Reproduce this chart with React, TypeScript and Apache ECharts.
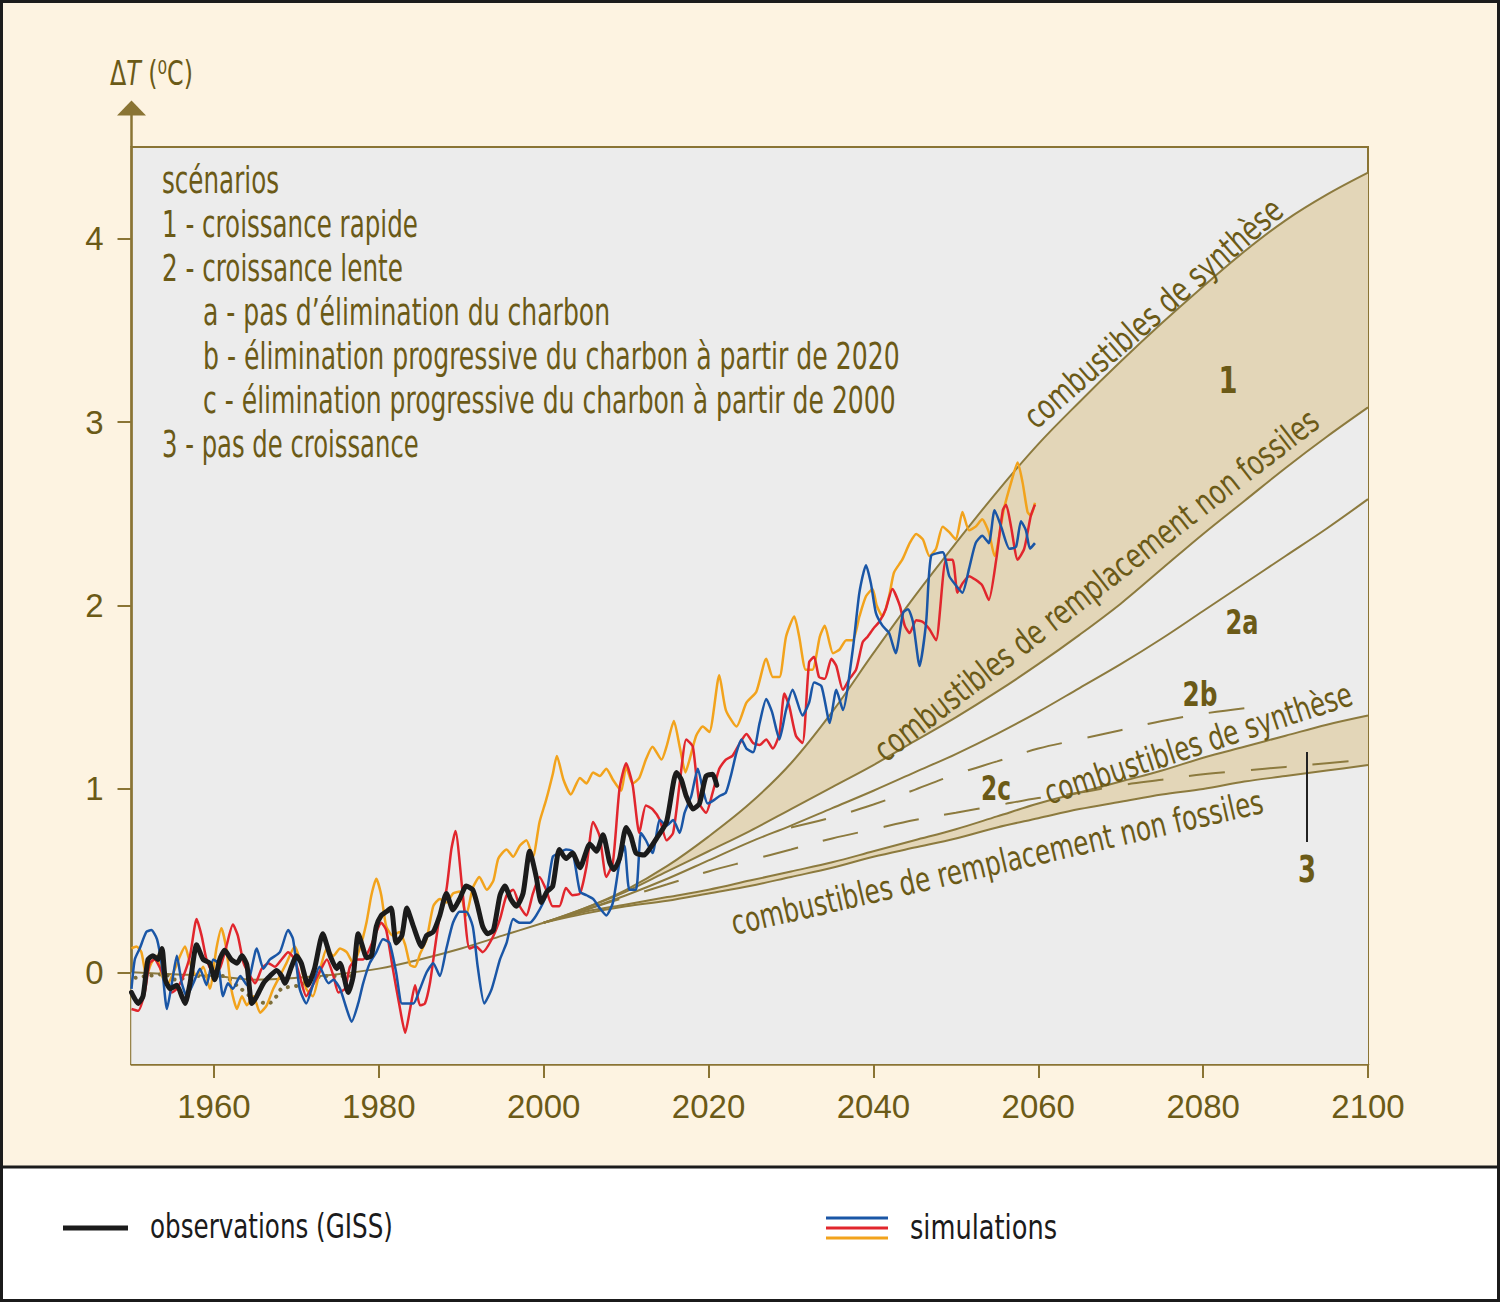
import React, { useEffect, useRef } from "react";
import * as echarts from "echarts";

// ---------- data ----------
const xTickValues = [1960, 1980, 2000, 2020, 2040, 2060, 2080, 2100];
const yTickValues = [0, 1, 2, 3, 4];

// common historical model curve
const histYears = [1950, 1955, 1960, 1965, 1970, 1975, 1980, 1985, 1990, 1995];
const histValues = [0.0, -0.01, -0.02, -0.04, -0.03, -0.01, 0.02, 0.07, 0.13, 0.2];

// dotted early curve
const dottedCurve = [
  [1950.5, -0.03], [1952, -0.02], [1954, -0.01], [1955.3, -0.04], [1958, -0.02], [1961, -0.02],
  [1963, -0.08], [1965, -0.15], [1966.6, -0.17], [1967.6, -0.13], [1968.2, -0.09], [1970.4, -0.07],
  [1971.8, -0.04], [1973.5, -0.02], [1975.5, -0.02], [1977.1, -0.02],
];

// scenario curves
const scenYears = [2000, 2005, 2010, 2015, 2020, 2025, 2030, 2035, 2040, 2045, 2050, 2055, 2060, 2065, 2070, 2075, 2080, 2085, 2090, 2095, 2100];
const s1Synthese = [0.27, 0.35, 0.45, 0.58, 0.74, 0.92, 1.14, 1.42, 1.74, 2.05, 2.34, 2.62, 2.88, 3.11, 3.33, 3.54, 3.74, 3.93, 4.1, 4.24, 4.36];
const s1Remplacement = [0.27, 0.35, 0.44, 0.55, 0.66, 0.77, 0.89, 1.01, 1.13, 1.26, 1.39, 1.53, 1.68, 1.84, 2.01, 2.2, 2.39, 2.57, 2.75, 2.92, 3.08];
const s2a = [0.27, 0.34, 0.42, 0.51, 0.61, 0.71, 0.8, 0.895, 0.99, 1.09, 1.19, 1.3, 1.42, 1.55, 1.68, 1.82, 1.97, 2.12, 2.27, 2.42, 2.58];
const s3Synthese = [0.27, 0.33, 0.37, 0.41, 0.45, 0.5, 0.55, 0.6, 0.66, 0.72, 0.78, 0.85, 0.92, 0.98, 1.04, 1.1, 1.17, 1.23, 1.29, 1.35, 1.4];
const s3Remplacement = [0.27, 0.32, 0.36, 0.39, 0.43, 0.47, 0.52, 0.57, 0.63, 0.68, 0.73, 0.79, 0.84, 0.89, 0.93, 0.97, 1.0, 1.04, 1.07, 1.1, 1.13];
const s2bYears = [2030, 2035, 2040, 2045, 2050, 2055, 2060, 2065, 2070, 2075, 2080, 2085];
const s2b = [0.79, 0.845, 0.915, 0.995, 1.08, 1.15, 1.22, 1.27, 1.32, 1.37, 1.41, 1.44];
const s2cYears = [2005, 2010, 2015, 2020, 2025, 2030, 2035, 2040, 2045, 2050, 2055, 2060, 2065, 2070, 2075, 2080, 2085, 2090, 2095, 2100];
const s2c = [0.34, 0.41, 0.48, 0.55, 0.61, 0.67, 0.73, 0.78, 0.83, 0.87, 0.91, 0.95, 0.98, 1.02, 1.05, 1.08, 1.1, 1.12, 1.14, 1.16];

// observations (GISS)
const observations = [
  [1950.0, -0.11], [1950.8, -0.17], [1951.4, -0.13], [1952.0, 0.07], [1952.6, 0.09], [1953.2, 0.07], [1953.7, 0.13],
  [1954.1, -0.04], [1954.7, -0.09], [1955.5, -0.07], [1956.1, -0.13], [1956.5, -0.17], [1957.1, -0.06], [1957.9, 0.15],
  [1958.7, 0.07], [1959.5, 0.05], [1960.1, -0.04], [1960.7, 0.07], [1961.3, 0.12], [1962.1, 0.07], [1962.8, 0.05],
  [1963.4, 0.09], [1964.0, 0.04], [1964.6, -0.17], [1965.2, -0.13], [1966.0, -0.06], [1966.8, -0.02], [1967.6, 0.01],
  [1968.2, -0.02], [1968.6, -0.06], [1969.4, 0.03], [1970.0, 0.09], [1970.6, 0.05], [1971.4, -0.07], [1972.2, 0.02],
  [1973.2, 0.21], [1974.1, 0.09], [1974.9, 0.02], [1975.3, 0.05], [1976.3, -0.11], [1976.9, -0.02], [1977.5, 0.21],
  [1978.1, 0.13], [1978.5, 0.08], [1979.1, 0.09], [1979.7, 0.25], [1980.3, 0.31], [1980.9, 0.33], [1981.5, 0.35],
  [1982.1, 0.16], [1982.8, 0.2], [1983.4, 0.35], [1984.2, 0.25], [1985.2, 0.14], [1985.8, 0.2], [1986.6, 0.22],
  [1987.4, 0.31], [1988.2, 0.43], [1989.0, 0.34], [1989.8, 0.4], [1990.6, 0.47], [1991.4, 0.45], [1992.0, 0.36],
  [1992.6, 0.25], [1993.2, 0.21], [1993.9, 0.23], [1994.7, 0.42], [1995.3, 0.47], [1996.0, 0.4], [1996.7, 0.36],
  [1997.5, 0.43], [1998.3, 0.66], [1999.1, 0.52], [1999.7, 0.38], [2000.4, 0.44], [2001.1, 0.47], [2001.9, 0.67],
  [2002.7, 0.62], [2003.5, 0.65], [2004.4, 0.57], [2005.6, 0.7], [2006.4, 0.66], [2007.2, 0.75], [2008.0, 0.6],
  [2008.5, 0.56], [2009.2, 0.62], [2010.0, 0.79], [2010.6, 0.74], [2011.2, 0.65], [2012.2, 0.64], [2012.8, 0.67],
  [2013.7, 0.73], [2014.9, 0.82], [2016.1, 1.09], [2016.7, 1.05], [2017.3, 0.96], [2018.1, 0.89], [2018.9, 0.92],
  [2019.7, 1.07], [2020.5, 1.08], [2021.0, 1.02],
];

// simulations
const simRed = [
  [1950.0, -0.2], [1950.8, -0.21], [1951.6, -0.11], [1952.2, 0.05], [1952.8, 0.07], [1953.5, 0.02], [1954.3, -0.06],
  [1954.9, -0.11], [1955.5, -0.09], [1956.3, -0.02], [1957.1, 0.09], [1957.9, 0.29], [1958.5, 0.2], [1959.1, 0.07],
  [1959.9, 0.0], [1960.7, 0.02], [1961.5, 0.14], [1962.3, 0.26], [1962.9, 0.2], [1963.6, 0.05], [1964.4, -0.02],
  [1965.0, -0.06], [1965.8, 0.02], [1966.6, 0.05], [1967.4, 0.03], [1968.2, 0.07], [1969.0, 0.11], [1969.8, 0.07],
  [1970.4, -0.02], [1971.2, -0.13], [1972.0, -0.07], [1972.8, 0.0], [1973.7, 0.07], [1974.5, -0.02], [1975.1, -0.11],
  [1975.9, -0.09], [1976.5, 0.03], [1977.3, 0.07], [1978.1, 0.07], [1978.9, 0.13], [1979.7, 0.22], [1980.3, 0.27],
  [1980.9, 0.23], [1981.7, 0.02], [1982.5, -0.18], [1983.2, -0.33], [1983.8, -0.2], [1984.4, -0.07], [1985.0, -0.18],
  [1985.6, -0.17], [1986.2, -0.06], [1986.8, 0.13], [1987.4, 0.31], [1988.2, 0.45], [1988.8, 0.67], [1989.3, 0.77],
  [1990.2, 0.42], [1991.0, 0.13], [1991.8, 0.14], [1992.6, 0.11], [1993.7, 0.18], [1994.7, 0.29], [1995.5, 0.42],
  [1996.3, 0.45], [1997.1, 0.36], [1997.9, 0.31], [1998.7, 0.43], [1999.5, 0.52], [2000.3, 0.45], [2001.1, 0.36],
  [2001.9, 0.36], [2002.7, 0.46], [2003.5, 0.42], [2004.4, 0.43], [2005.2, 0.58], [2006.0, 0.82], [2006.8, 0.74],
  [2007.6, 0.52], [2008.4, 0.6], [2009.2, 1.0], [2010.0, 1.14], [2010.8, 1.02], [2011.6, 0.76], [2012.4, 0.91],
  [2013.2, 0.89], [2014.1, 0.83], [2014.9, 0.72], [2015.7, 0.76], [2016.5, 1.03], [2017.3, 1.27], [2018.1, 1.23],
  [2018.9, 0.92], [2019.7, 0.87], [2020.5, 0.98], [2021.3, 1.11], [2022.1, 1.16], [2022.9, 1.18], [2023.8, 1.25],
  [2024.6, 1.3], [2025.4, 1.25], [2026.2, 1.24], [2027.0, 1.27], [2027.8, 1.22], [2028.6, 1.3], [2029.2, 1.52],
  [2029.8, 1.45], [2030.6, 1.29], [2031.4, 1.25], [2032.2, 1.69], [2032.8, 1.72], [2033.4, 1.61], [2034.1, 1.6],
  [2034.9, 1.71], [2035.5, 1.67], [2036.3, 1.54], [2037.1, 1.6], [2037.9, 1.65], [2038.7, 1.8], [2039.3, 1.83],
  [2040.1, 1.88], [2040.7, 1.91], [2041.5, 1.98], [2042.3, 2.09], [2043.2, 2.0], [2043.8, 1.89], [2044.4, 1.85],
  [2045.2, 1.92], [2046.0, 1.91], [2046.8, 1.87], [2047.6, 1.81], [2048.8, 2.25], [2049.6, 2.25], [2050.2, 2.07],
  [2050.8, 2.12], [2051.6, 2.16], [2052.4, 2.14], [2053.2, 2.11], [2054.0, 2.03], [2054.9, 2.25], [2055.7, 2.52],
  [2056.1, 2.55], [2056.7, 2.43], [2057.5, 2.25], [2058.3, 2.31], [2059.1, 2.49], [2059.6, 2.55],
];

const simBlue = [
  [1950.0, -0.09], [1950.4, 0.07], [1951.0, 0.13], [1951.8, 0.22], [1952.4, 0.23], [1953.1, 0.18], [1953.7, 0.03],
  [1954.3, -0.2], [1954.9, -0.06], [1955.5, 0.09], [1956.1, -0.06], [1956.7, -0.13], [1957.5, -0.06], [1958.3, 0.02],
  [1959.1, -0.07], [1959.9, 0.07], [1960.5, 0.05], [1961.1, -0.13], [1961.7, -0.06], [1962.3, -0.09], [1963.2, -0.02],
  [1964.0, -0.07], [1965.2, 0.13], [1966.0, 0.02], [1966.8, 0.07], [1968.0, 0.11], [1969.0, 0.23], [1969.6, 0.18],
  [1970.4, -0.09], [1971.2, -0.17], [1972.0, -0.07], [1972.8, 0.03], [1973.9, -0.06], [1974.5, -0.04], [1975.3, -0.09],
  [1976.1, -0.2], [1976.7, -0.27], [1977.5, -0.17], [1978.1, -0.06], [1978.9, 0.05], [1979.7, 0.11], [1980.5, 0.18],
  [1981.3, 0.16], [1982.1, 0.0], [1982.8, -0.17], [1983.4, -0.17], [1984.2, -0.17], [1985.0, -0.09], [1985.8, 0.0],
  [1986.6, 0.05], [1987.4, -0.02], [1988.2, 0.13], [1989.0, 0.27], [1989.8, 0.33], [1990.6, 0.33], [1991.4, 0.25],
  [1992.0, 0.03], [1992.8, -0.17], [1993.7, -0.09], [1994.7, 0.07], [1995.5, 0.16], [1996.3, 0.29], [1997.1, 0.27],
  [1998.3, 0.27], [1999.1, 0.31], [2000.3, 0.42], [2001.1, 0.63], [2001.9, 0.65], [2002.7, 0.67], [2003.5, 0.66],
  [2004.4, 0.44], [2005.2, 0.42], [2006.0, 0.4], [2006.8, 0.35], [2007.6, 0.31], [2008.4, 0.38], [2009.2, 0.6],
  [2009.8, 0.69], [2010.4, 0.45], [2011.2, 0.45], [2011.8, 0.76], [2012.4, 0.72], [2013.2, 0.65], [2014.1, 0.83],
  [2014.9, 0.8], [2015.7, 0.83], [2016.5, 0.76], [2017.1, 0.87], [2017.9, 0.96], [2018.7, 1.11], [2019.3, 1.0],
  [2019.9, 0.92], [2020.7, 0.94], [2021.3, 0.96], [2022.1, 0.98], [2022.7, 1.07], [2023.4, 1.2], [2024.0, 1.27],
  [2024.6, 1.22], [2025.4, 1.2], [2026.2, 1.36], [2027.0, 1.49], [2027.7, 1.42], [2028.6, 1.27], [2029.4, 1.43],
  [2030.2, 1.54], [2031.4, 1.4], [2032.2, 1.47], [2032.8, 1.58], [2033.7, 1.56], [2034.7, 1.36], [2035.5, 1.54],
  [2036.3, 1.43], [2037.5, 1.76], [2038.3, 2.07], [2039.1, 2.22], [2039.7, 2.12], [2040.3, 1.96], [2041.1, 1.89],
  [2041.9, 1.85], [2042.7, 1.74], [2043.6, 1.96], [2044.2, 1.98], [2044.8, 1.91], [2045.6, 1.67], [2046.4, 1.91],
  [2047.0, 2.27], [2048.4, 2.29], [2049.2, 2.16], [2050.0, 2.11], [2050.8, 2.07], [2051.6, 2.2], [2052.4, 2.34],
  [2053.2, 2.38], [2054.0, 2.34], [2054.7, 2.52], [2055.5, 2.43], [2056.5, 2.31], [2057.3, 2.32], [2057.9, 2.46],
  [2058.5, 2.41], [2059.0, 2.31], [2059.6, 2.34],
];

const simOrange = [
  [1950.0, 0.13], [1950.6, 0.14], [1951.2, 0.11], [1951.8, -0.02], [1952.4, 0.05], [1953.1, 0.09], [1953.7, -0.02],
  [1954.3, -0.07], [1955.1, 0.0], [1955.9, 0.09], [1956.5, 0.14], [1957.1, 0.05], [1957.9, -0.02], [1958.7, 0.03],
  [1959.5, -0.09], [1960.3, 0.13], [1960.9, 0.24], [1961.5, 0.13], [1962.1, -0.09], [1962.8, -0.2], [1963.4, -0.13],
  [1964.0, -0.18], [1964.8, -0.13], [1965.6, -0.22], [1966.4, -0.18], [1967.2, -0.09], [1968.0, -0.02], [1968.8, 0.05],
  [1969.8, 0.14], [1970.4, 0.07], [1971.2, -0.09], [1972.0, -0.13], [1972.8, 0.0], [1973.7, 0.13], [1974.5, 0.09],
  [1975.3, 0.13], [1976.1, 0.11], [1976.9, 0.05], [1977.7, 0.13], [1978.5, 0.27], [1979.1, 0.42], [1979.7, 0.51],
  [1980.3, 0.42], [1980.9, 0.25], [1981.7, 0.2], [1982.5, 0.22], [1983.2, 0.15], [1983.8, 0.04], [1984.4, 0.03],
  [1985.0, 0.1], [1985.8, 0.18], [1986.6, 0.36], [1987.4, 0.4], [1988.2, 0.38], [1989.0, 0.43], [1989.8, 0.44],
  [1990.6, 0.31], [1991.4, 0.46], [1992.2, 0.52], [1993.1, 0.45], [1993.9, 0.5], [1994.5, 0.62], [1995.5, 0.67],
  [1996.3, 0.63], [1997.1, 0.69], [1997.9, 0.72], [1998.7, 0.63], [1999.5, 0.82], [2000.3, 0.94], [2001.1, 1.08],
  [2001.6, 1.18], [2002.4, 1.05], [2003.3, 0.97], [2004.4, 1.06], [2005.2, 1.03], [2006.0, 1.09], [2006.8, 1.07],
  [2007.6, 1.11], [2008.4, 1.05], [2009.4, 0.99], [2010.0, 1.12], [2010.8, 1.03], [2011.6, 1.06], [2012.4, 1.16],
  [2013.2, 1.23], [2014.3, 1.16], [2014.9, 1.23], [2015.8, 1.37], [2016.5, 1.23], [2017.2, 1.09], [2017.7, 1.16],
  [2018.5, 1.29], [2019.3, 1.34], [2020.1, 1.31], [2021.3, 1.62], [2022.1, 1.43], [2023.4, 1.34], [2024.6, 1.47],
  [2025.8, 1.53], [2027.0, 1.71], [2027.8, 1.61], [2028.6, 1.61], [2029.4, 1.83], [2030.4, 1.94], [2031.0, 1.83],
  [2031.8, 1.65], [2032.6, 1.65], [2033.5, 1.83], [2034.1, 1.89], [2035.1, 1.74], [2035.9, 1.76], [2036.7, 1.81],
  [2037.5, 1.81], [2038.3, 1.94], [2039.1, 2.05], [2039.9, 2.09], [2040.4, 2.0], [2041.1, 1.94], [2041.9, 2.05],
  [2042.5, 2.18], [2043.5, 2.25], [2044.4, 2.34], [2045.2, 2.39], [2046.0, 2.36], [2046.8, 2.27], [2047.6, 2.31],
  [2048.4, 2.43], [2049.2, 2.4], [2050.0, 2.36], [2050.8, 2.51], [2051.6, 2.41], [2052.4, 2.43], [2053.2, 2.47],
  [2054.0, 2.4], [2054.7, 2.27], [2055.8, 2.52], [2056.7, 2.67], [2057.5, 2.78], [2058.1, 2.67], [2058.7, 2.51],
  [2059.1, 2.49], [2059.6, 2.56],
];

// texts
const axisTitleParts = ["Δ", "T", " (⁰C)"];
const scenarioNotes = [
  "scénarios",
  "1 - croissance rapide",
  "2 - croissance lente",
  "a - pas d’élimination du charbon",
  "b - élimination progressive du charbon à partir de 2020",
  "c - élimination progressive du charbon à partir de 2000",
  "3 - pas de croissance",
];
const labelSynthese = "combustibles de synthèse";
const labelRemplacement = "combustibles de remplacement non fossiles";
const legendObservations = "observations (GISS)";
const legendSimulations = "simulations";

// ---------- styles ----------
const FONT = "'Liberation Sans Narrow', 'Arial Narrow', 'DejaVu Sans Condensed', 'Roboto', sans-serif";
const TICK_FONT = "'Liberation Sans', 'Arial', sans-serif";
const TEXT = "#6b5a17";
const AXIS = "#8a7434";
const SCEN = "#8c7a3e";
const TAN = "#e3d6b8";
const GREY = "#ececec";
const CREAM = "#fdf3e1";
const RED = "#e1262d";
const BLUE = "#1a56a6";
const ORANGE = "#f2a31c";
const BLACK = "#1b1b1b";

let measureCtx: CanvasRenderingContext2D | null = null;
function measure(text: string, size: number, weight: string = "normal", style: string = "normal"): number {
  if (!measureCtx) measureCtx = document.createElement("canvas").getContext("2d");
  measureCtx!.font = `${style} ${weight} ${size}px ${FONT}`;
  return measureCtx!.measureText(text).width || 1;
}

function fitText(text: string, x: number, y: number, width: number, size: number, opts: any = {}) {
  const weight = opts.weight || "normal";
  const w = measure(text, size, weight);
  return {
    type: "text",
    x,
    y,
    rotation: ((opts.angle || 0) * Math.PI) / 180,
    scaleX: width / w,
    silent: true,
    z: 20,
    style: {
      text,
      fontSize: size,
      fontFamily: FONT,
      fontWeight: weight,
      fill: opts.color || TEXT,
      align: opts.align || "left",
      verticalAlign: "middle",
    },
  };
}

function pairs(xs: number[], ys: number[]) {
  return xs.map((x, i) => [x, ys[i]]);
}

function buildOption() {
  const lineBase = { type: "line", showSymbol: false, silent: true, animation: false };
  const scenLine = (data: number[][], dashed = false) => ({
    ...lineBase,
    data,
    smooth: 0.35,
    z: 3,
    lineStyle: { color: SCEN, width: 2, type: dashed ? [36, 26] : "solid" },
  });
  const areaFill = (data: number[][], color: string, z: number) => ({
    ...lineBase,
    data,
    smooth: 0.35,
    z,
    lineStyle: { width: 0, opacity: 0 },
    areaStyle: { color, opacity: 1, origin: "start" },
  });
  const simLine = (data: number[][], color: string) => ({
    ...lineBase,
    data,
    smooth: 0.2,
    z: 5,
    lineStyle: { color, width: 2.5, join: "round" },
  });

  const histPairs = pairs(histYears, histValues);
  const noteX = [162, 162, 162, 203, 203, 203, 162];
  const noteW = [117, 256, 241, 407, 697, 693, 257];

  const titleSize = 34;
  const titleW =
    measure(axisTitleParts[0], titleSize) +
    measure(axisTitleParts[1], titleSize, "normal", "italic") +
    measure(axisTitleParts[2], titleSize);

  const graphics: any[] = [
    { type: "rect", shape: { x: 0, y: 1168, width: 1500, height: 134 }, style: { fill: "#ffffff" }, silent: true, z: 0 },
    { type: "line", shape: { x1: 0, y1: 1167, x2: 1500, y2: 1167 }, style: { stroke: BLACK, lineWidth: 3 }, silent: true, z: 1 },
    { type: "rect", shape: { x: 1.5, y: 1.5, width: 1497, height: 1299 }, style: { fill: "none", stroke: BLACK, lineWidth: 3 }, silent: true, z: 1 },
    // y axis extension + arrow
    { type: "line", shape: { x1: 131.5, y1: 147, x2: 131.5, y2: 112 }, style: { stroke: AXIS, lineWidth: 2.5 }, silent: true, z: 2 },
    { type: "polygon", shape: { points: [[117, 115.5], [146, 115.5], [131.5, 100.5]] }, style: { fill: AXIS }, silent: true, z: 2 },
    // axis title
    {
      type: "text",
      x: 110,
      y: 73,
      scaleX: 83 / titleW,
      silent: true,
      z: 20,
      style: {
        text: `{a|${axisTitleParts[0]}}{b|${axisTitleParts[1]}}{a|${axisTitleParts[2]}}`,
        verticalAlign: "middle",
        align: "left",
        rich: {
          a: { fontSize: titleSize, fontFamily: FONT, fill: TEXT, color: TEXT },
          b: { fontSize: titleSize, fontFamily: FONT, fontStyle: "italic", fill: TEXT, color: TEXT },
        },
      },
    },
  ];

  scenarioNotes.forEach((t, i) => {
    graphics.push(fitText(t, noteX[i], 180 + i * 44, noteW[i], 38));
  });

  // rotated curve labels
  graphics.push(fitText(labelSynthese, 1153, 313, 330, 34, { angle: 41, align: "center" }));
  graphics.push(fitText(labelRemplacement, 1096, 585, 552, 34, { angle: 37.7, align: "center" }));
  graphics.push(fitText(labelSynthese, 1198, 743, 322, 34, { angle: 18.2, align: "center" }));
  graphics.push(fitText(labelRemplacement, 997, 862, 545, 34, { angle: 13, align: "center" }));

  // scenario number labels
  const bold = (t: string, x: number, y: number, size: number, w: number) => {
    const mw = measure(t, size, "bold");
    return {
      type: "text",
      x,
      y,
      scaleX: w / mw,
      silent: true,
      z: 20,
      style: { text: t, fontSize: size, fontFamily: FONT, fontWeight: "bold", fill: TEXT, align: "center", verticalAlign: "middle" },
    };
  };
  graphics.push(bold("1", 1228, 380, 37, 19));
  graphics.push(bold("2a", 1242, 622, 34, 33));
  graphics.push(bold("2b", 1200, 694, 34, 35));
  graphics.push(bold("2c", 996, 788, 34, 30));
  graphics.push(bold("3", 1307, 869, 37, 18));
  graphics.push({ type: "line", shape: { x1: 1307, y1: 752, x2: 1307, y2: 842 }, style: { stroke: "#222", lineWidth: 2 }, silent: true, z: 20 });

  // bottom legend
  graphics.push({ type: "line", shape: { x1: 63, y1: 1228, x2: 128, y2: 1228 }, style: { stroke: BLACK, lineWidth: 5 }, silent: true, z: 5 });
  graphics.push(fitText(legendObservations, 150, 1227, 243, 33, { color: BLACK }));
  graphics.push({ type: "line", shape: { x1: 826, y1: 1218, x2: 888, y2: 1218 }, style: { stroke: BLUE, lineWidth: 3 }, silent: true, z: 5 });
  graphics.push({ type: "line", shape: { x1: 826, y1: 1228, x2: 888, y2: 1228 }, style: { stroke: RED, lineWidth: 3 }, silent: true, z: 5 });
  graphics.push({ type: "line", shape: { x1: 826, y1: 1238, x2: 888, y2: 1238 }, style: { stroke: ORANGE, lineWidth: 3 }, silent: true, z: 5 });
  graphics.push(fitText(legendSimulations, 910, 1227, 147, 33, { color: BLACK }));

  return {
    animation: false,
    backgroundColor: CREAM,
    grid: {
      left: 131.5,
      right: 132,
      top: 147,
      bottom: 238,
      show: true,
      backgroundColor: GREY,
      borderColor: AXIS,
      borderWidth: 2,
      containLabel: false,
    },
    xAxis: {
      type: "value",
      min: 1950,
      max: 2100,
      axisLine: { show: true, onZero: false, lineStyle: { color: AXIS, width: 2.5 } },
      axisTick: { show: true, length: 14, customValues: xTickValues, lineStyle: { color: AXIS, width: 2 } },
      axisLabel: {
        customValues: xTickValues,
        formatter: (v: number) => String(v),
        fontSize: 33,
        fontFamily: TICK_FONT,
        color: TEXT,
        margin: 26,
      },
      splitLine: { show: false },
    },
    yAxis: {
      type: "value",
      min: -0.5,
      max: 4.5,
      axisLine: { show: true, onZero: false, lineStyle: { color: AXIS, width: 2.5 } },
      axisTick: { show: true, length: 14, customValues: yTickValues, lineStyle: { color: AXIS, width: 2 } },
      axisLabel: {
        customValues: yTickValues,
        formatter: (v: number) => String(v),
        fontSize: 33,
        fontFamily: TICK_FONT,
        color: TEXT,
        margin: 28,
      },
      splitLine: { show: false },
    },
    graphic: graphics,
    series: [
      // bands: tan fill under the upper curve, grey mask under the lower curve
      areaFill(pairs(scenYears, s1Synthese), TAN, 1),
      areaFill(histPairs.concat(pairs(scenYears, s1Remplacement)), GREY, 1),
      areaFill(pairs(scenYears, s3Synthese), TAN, 1),
      areaFill(histPairs.concat(pairs(scenYears, s3Remplacement)), GREY, 1),
      // scenario curves
      scenLine(histPairs.concat([[scenYears[0], s1Synthese[0]]])),
      scenLine(pairs(scenYears, s1Synthese)),
      scenLine(pairs(scenYears, s1Remplacement)),
      scenLine(pairs(scenYears, s2a)),
      scenLine(pairs(s2bYears, s2b), true),
      scenLine(pairs(s2cYears, s2c), true),
      scenLine(pairs(scenYears, s3Synthese)),
      scenLine(pairs(scenYears, s3Remplacement)),
      {
        ...lineBase,
        data: dottedCurve,
        smooth: 0.3,
        z: 3,
        lineStyle: { color: "#7d6e3a", width: 4, type: [0.1, 8], cap: "round" },
      },
      simLine(simOrange, ORANGE),
      simLine(simRed, RED),
      simLine(simBlue, BLUE),
      {
        ...lineBase,
        data: observations,
        smooth: 0.2,
        z: 6,
        lineStyle: { color: BLACK, width: 5, join: "round", cap: "round" },
      },
    ],
  };
}

export default function App() {
  const ref = useRef<HTMLDivElement>(null);
  useEffect(() => {
    if (!ref.current) return;
    const chart = echarts.init(ref.current, null, { renderer: "svg", width: 1500, height: 1302 });
    chart.setOption(buildOption() as any);
    return () => {
      chart.dispose();
    };
  }, []);
  return <div ref={ref} style={{ position: "absolute", left: 0, top: 0, width: 1500, height: 1302 }} />;
}
